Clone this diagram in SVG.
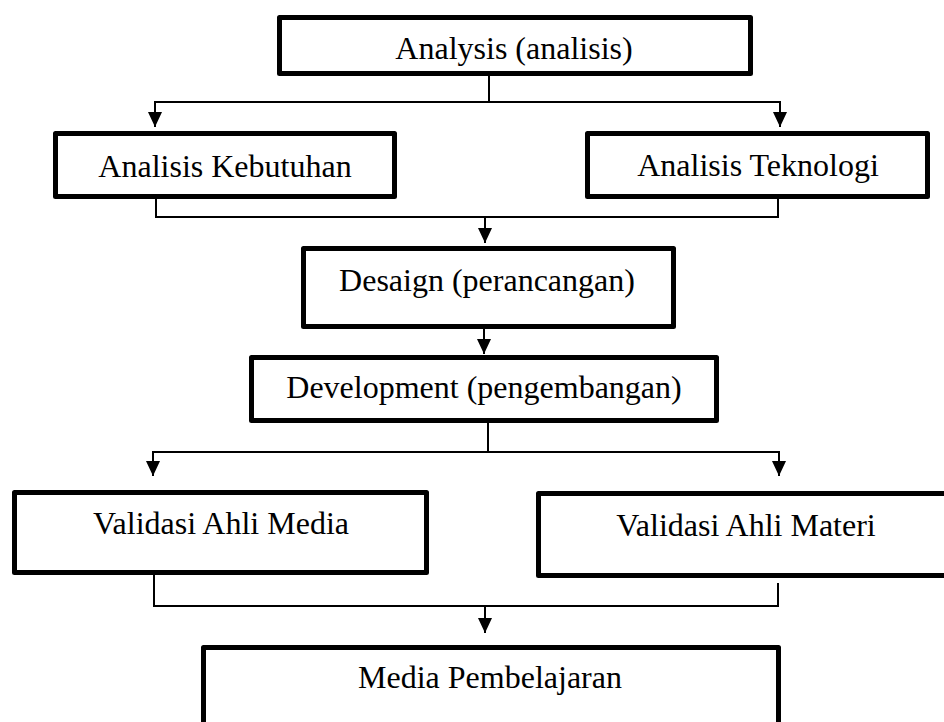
<svg xmlns="http://www.w3.org/2000/svg" width="944" height="722" viewBox="0 0 944 722">
<style>
.box{fill:#fff;stroke:#000;stroke-width:5;stroke-linejoin:round}
.lbl{font-family:"Liberation Serif","Times New Roman",serif;font-size:32px;fill:#000;text-anchor:middle}
.con{fill:none;stroke:#000;stroke-width:2}
</style>
<defs>
<marker id="arr" viewBox="0 0 15 14" refX="15" refY="7" markerWidth="15" markerHeight="14" markerUnits="userSpaceOnUse" orient="auto">
<path d="M0,0 L15,7 L0,14 z" fill="#000"/>
</marker>
</defs>
<rect width="944" height="722" fill="#fff"/>
<g id="connectors">
<path class="con" d="M489,76 V102 M155,102 H780"/>
<path class="con" d="M155,101 V127" marker-end="url(#arr)"/>
<path class="con" d="M780,101 V127" marker-end="url(#arr)"/>
<path class="con" d="M156,199 V217 H778 V199"/>
<path class="con" d="M485,217 V243" marker-end="url(#arr)"/>
<path class="con" d="M484,329 V354" marker-end="url(#arr)"/>
<path class="con" d="M488,423 V452 M153,452 H779"/>
<path class="con" d="M153,451 V476" marker-end="url(#arr)"/>
<path class="con" d="M779,451 V476" marker-end="url(#arr)"/>
<path class="con" d="M154,575 V606 H778 V583"/>
<path class="con" d="M485,606 V633" marker-end="url(#arr)"/>
</g>
<g id="analysis">
<rect class="box" x="279.5" y="17.5" width="471" height="56"/>
<text class="lbl" x="514" y="59">Analysis (analisis)</text>
</g>
<g id="analisis-kebutuhan">
<rect class="box" x="55.5" y="133.5" width="339" height="63"/>
<text class="lbl" x="225" y="177">Analisis Kebutuhan</text>
</g>
<g id="analisis-teknologi">
<rect class="box" x="587.5" y="133.5" width="340" height="63"/>
<text class="lbl" x="758" y="176">Analisis Teknologi</text>
</g>
<g id="desaign">
<rect class="box" x="303.5" y="248.5" width="370" height="78"/>
<text class="lbl" x="487" y="291">Desaign (perancangan)</text>
</g>
<g id="development">
<rect class="box" x="251.5" y="357.5" width="465" height="63"/>
<text class="lbl" x="484" y="398">Development (pengembangan)</text>
</g>
<g id="validasi-media">
<rect class="box" x="14.5" y="492.5" width="412" height="80"/>
<text class="lbl" x="221" y="534">Validasi Ahli Media</text>
</g>
<g id="validasi-materi">
<rect class="box" x="538.5" y="493.5" width="420" height="82"/>
<text class="lbl" x="746" y="536">Validasi Ahli Materi</text>
</g>
<g id="media-pembelajaran">
<rect class="box" x="203.5" y="647.5" width="575" height="110"/>
<text class="lbl" x="490" y="688">Media Pembelajaran</text>
</g>
</svg>
